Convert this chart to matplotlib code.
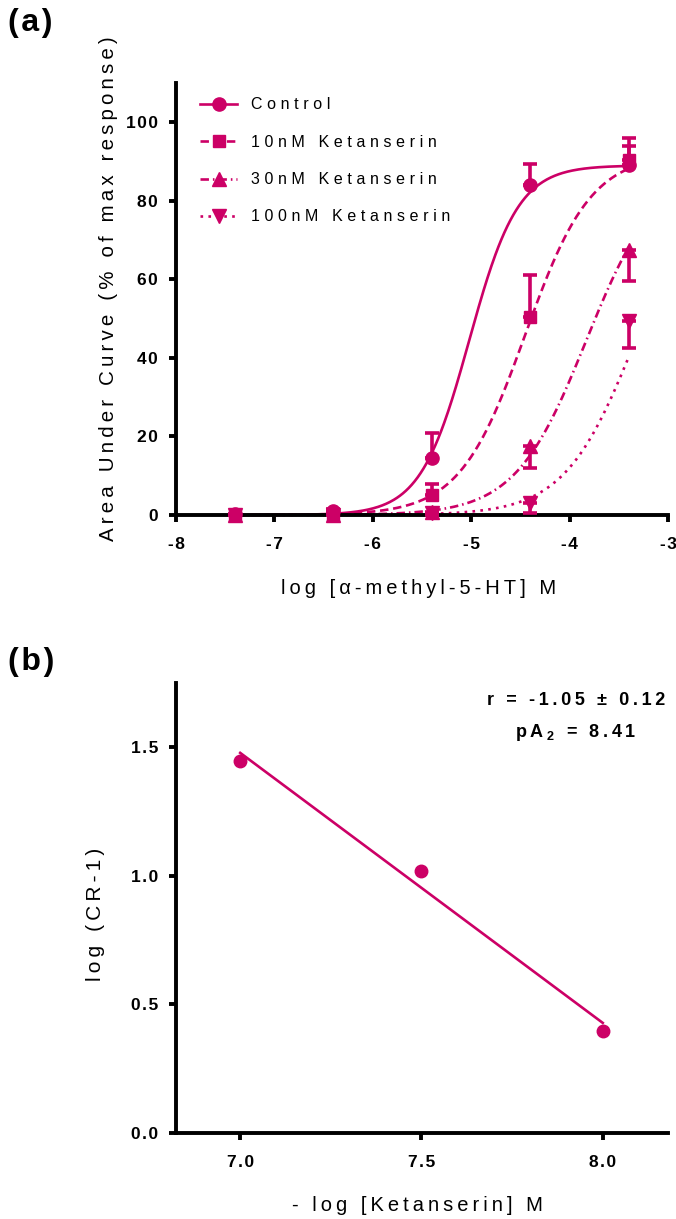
import numpy as np
import matplotlib
matplotlib.use("Agg")
import matplotlib.pyplot as plt

plt.rcParams['font.family'] = ['Liberation Sans', 'DejaVu Sans']
plt.rcParams['mathtext.fontset'] = 'custom'
plt.rcParams['mathtext.rm'] = 'Liberation Sans'
plt.rcParams['mathtext.bf'] = 'Liberation Sans:bold'

# panel (a) data
log_conc = [-7.4, -6.4, -5.4, -4.4, -3.4]
control = [0.2, 1.0, 14.5, 84.0, 89.0]
control_err = [0.0, 0.5, 6.5, 5.5, 5.0]
keta10 = [0.0, 0.0, 5.0, 50.5, 90.5]
keta10_err = [0.0, 0.0, 3.0, 10.5, 5.5]
keta30 = [0.0, 0.0, 0.8, 17.5, 67.5]
keta30_err = [0.0, 0.0, 0.5, 5.5, 8.0]
keta100 = [0.0, 0.0, 0.5, 3.0, 49.5]
keta100_err = [0.0, 0.0, 0.5, 2.5, 7.0]
series_names = ['Control', '10nM Ketanserin', '30nM Ketanserin', '100nM Ketanserin']
# fitted sigmoid parameters (top, logEC50, hill)
fit_top = [89.0, 92.0, 89.0, 89.0]
fit_logec50 = [-5.02, -4.45, -3.83, -3.33]
fit_hill = [1.75, 1.3, 1.2, 1.2]

# panel (b) data
neg_log_keta = [7.0, 7.5, 8.0]
log_cr1 = [1.445, 1.02, 0.395]

col = '#cc0066'
hair = '\u200a'
thin = '\u2009'


def sp(s, g=hair):
    return g.join(s)


fig = plt.figure(figsize=(6.76, 12.19), dpi=100)

ax = fig.add_axes([0.2604, 0.5775, 0.7278, 0.3544])
ys = [control, keta10, keta30, keta100]
errs = [control_err, keta10_err, keta30_err, keta100_err]
markers = ['o', 's', '^', 'v']
msizes = [9.5, 8.5, 9.5, 9.5]
styles = ['-', (0, (3.2, 1.8)), (0, (3.2, 1.5, 0.6, 1.5)), (0, (1, 2))]
err_up = [True, True, False, False]
xx = np.linspace(log_conc[0], log_conc[-1], 400)
handles = []
for i in range(4):
    e = np.array(errs[i])
    z = np.zeros_like(e)
    yerr = [z, e] if err_up[i] else [e, z]
    ax.errorbar(log_conc, ys[i], yerr=yerr, fmt='none', ecolor=col, elinewidth=2.6,
                capsize=4.8, capthick=2.6, clip_on=False, zorder=3)
    yy = fit_top[i] / (1 + 10 ** (fit_hill[i] * (fit_logec50[i] - xx)))
    ax.plot(xx, yy, color=col, lw=1.9, ls=styles[i], clip_on=False, zorder=2)
    ax.plot(log_conc, ys[i], ls='none', marker=markers[i], ms=msizes[i], color=col,
            clip_on=False, zorder=4)
    h, = ax.plot([], [], color=col, lw=1.9, ls=styles[i], marker=markers[i], ms=msizes[i])
    handles.append(h)

ax.set_xlim(-8, -3)
ax.set_ylim(0, 110)
ax.set_xticks([-8, -7, -6, -5, -4, -3])
ax.set_xticklabels([sp(str(v)) for v in [-8, -7, -6, -5, -4, -3]])
ax.set_yticks([0, 20, 40, 60, 80, 100])
ax.set_yticklabels([sp(str(v)) for v in [0, 20, 40, 60, 80, 100]])
ax.set_xlabel(sp('log [\u03b1-methyl-5-HT] M', thin), fontsize=14.5)
ax.set_ylabel(sp('Area Under Curve (% of max response)', thin), fontsize=14.8)
ax.xaxis.set_label_coords(0.492, -0.148)
ax.yaxis.set_label_coords(-0.118, 0.525)
leg = ax.legend(handles, [sp(s, thin + hair) for s in series_names], loc='upper left',
                bbox_to_anchor=(0.02, 1.0), frameon=False, fontsize=11.5,
                handlelength=2.3, handletextpad=0.9, labelspacing=1.4)

ax2 = fig.add_axes([0.2604, 0.0705, 0.7278, 0.3692])
slope, icpt = np.polyfit(neg_log_keta, log_cr1, 1)
xl = np.array([neg_log_keta[0], neg_log_keta[-1]])
ax2.plot(xl, slope * xl + icpt, color=col, lw=1.9, zorder=2)
ax2.plot(neg_log_keta, log_cr1, ls='none', marker='o', ms=9, color=col, zorder=3)
ax2.set_xlim(6.823, 8.18)
ax2.set_ylim(0, 1.75)
ax2.set_xticks([7.0, 7.5, 8.0])
ax2.set_xticklabels([sp('%.1f' % v) for v in [7.0, 7.5, 8.0]])
ax2.set_yticks([0.0, 0.5, 1.0, 1.5])
ax2.set_yticklabels([sp('%.1f' % v) for v in [0.0, 0.5, 1.0, 1.5]])
ax2.set_xlabel(sp('- log [Ketanserin] M', thin), fontsize=14.5)
ax2.set_ylabel(sp('log (CR-1)', thin), fontsize=15)
ax2.xaxis.set_label_coords(0.491, -0.14)
ax2.yaxis.set_label_coords(-0.144, 0.487)
ax2.text(0.994, 0.962, sp('r = -1.05 \u00b1 0.12', thin), transform=ax2.transAxes,
         ha='right', va='center', fontsize=13, fontweight='bold')
ax2.text(0.935, 0.889, sp('pA', thin) + thin + r'$_{\mathbf{2}}$' + thin + sp(' = 8.41', thin),
         transform=ax2.transAxes, ha='right', va='center', fontsize=13, fontweight='bold')

for a in [ax, ax2]:
    for s in ['top', 'right']:
        a.spines[s].set_visible(False)
    for s in ['left', 'bottom']:
        a.spines[s].set_linewidth(2.8)
    a.tick_params(direction='out', length=5, width=2.8, labelsize=12.5)
    a.tick_params(axis='x', pad=11)
    a.tick_params(axis='y', pad=8)
    for lab in a.get_xticklabels() + a.get_yticklabels():
        lab.set_fontweight('bold')

fig.text(0.012, 0.981, sp('(a)'), fontsize=23, fontweight='bold', ha='left', va='center')
fig.text(0.012, 0.457, sp('(b)'), fontsize=23, fontweight='bold', ha='left', va='center')

fig.savefig('out.png', dpi=100)
